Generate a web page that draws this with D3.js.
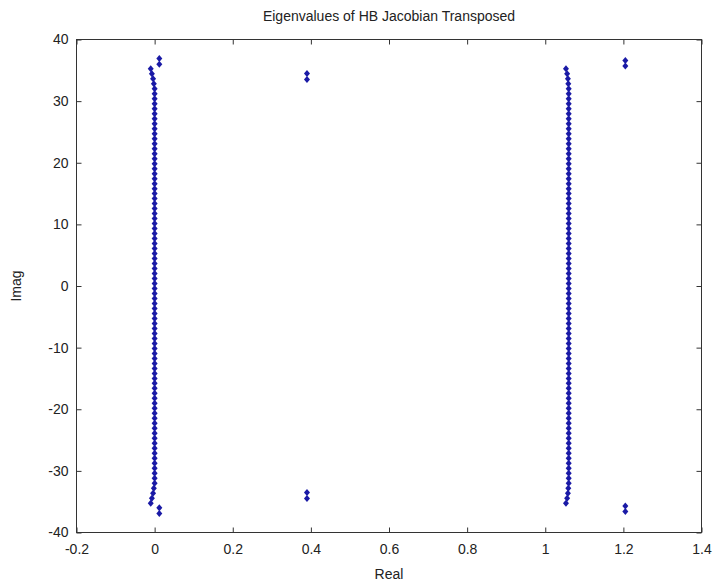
<!DOCTYPE html>
<html lang="en">
<head>
    <meta charset="UTF-8">
    <title>Eigenvalues of HB Jacobian Transposed</title>
    <script src="https://d3js.org/d3.v7.min.js"></script>
    <style>
        body { margin: 0; background: #fff; }
        svg text { font-family: "Liberation Sans", Arial, sans-serif; fill: #222; }
        .tick line { stroke: #333; }
    </style>
</head>
<body>
    <svg id="chart" width="720" height="586"></svg>

    <script>
        // imaginary parts of the two long columns (top to bottom)
        const colImag = [
            35.24, 34.43, 33.62, 32.81, 32.00, 31.19, 30.38, 29.57, 28.76, 27.95, 27.14,
            26.33, 25.52, 24.71, 23.90, 23.09, 22.28, 21.47, 20.66, 19.85, 19.04, 18.23,
            17.42, 16.61, 15.80, 14.99, 14.18, 13.37, 12.56, 11.75, 10.94, 10.13, 9.32,
            8.51, 7.70, 6.89, 6.08, 5.27, 4.46, 3.65, 2.84, 2.03, 1.22, 0.41,
            -0.41, -1.22, -2.03, -2.84, -3.65, -4.46, -5.27, -6.08, -6.89, -7.70, -8.51,
            -9.32, -10.13, -10.94, -11.75, -12.56, -13.37, -14.18, -14.99, -15.80, -16.61, -17.42,
            -18.23, -19.04, -19.85, -20.66, -21.47, -22.28, -23.09, -23.90, -24.71, -25.52, -26.33,
            -27.14, -27.95, -28.76, -29.57, -30.38, -31.19, -32.00, -32.81, -33.62, -34.43, -35.24
        ];

        // real parts, left column (near 0)
        const leftReal = [
            -0.010, -0.007, -0.004, -0.002, 0, 0, 0, 0, 0, 0, 0,
            0, 0, 0, 0, 0, 0, 0, 0, 0, 0, 0,
            0, 0, 0, 0, 0, 0, 0, 0, 0, 0, 0,
            0, 0, 0, 0, 0, 0, 0, 0, 0, 0, 0,
            0, 0, 0, 0, 0, 0, 0, 0, 0, 0, 0,
            0, 0, 0, 0, 0, 0, 0, 0, 0, 0, 0,
            0, 0, 0, 0, 0, 0, 0, 0, 0, 0, 0,
            0, 0, 0, 0, 0, 0, 0, -0.002, -0.004, -0.007, -0.010
        ];

        // real parts, right column (near 1.06)
        const rightReal = [
            1.053, 1.056, 1.058, 1.059, 1.06, 1.06, 1.06, 1.06, 1.06, 1.06, 1.06,
            1.06, 1.06, 1.06, 1.06, 1.06, 1.06, 1.06, 1.06, 1.06, 1.06, 1.06,
            1.06, 1.06, 1.06, 1.06, 1.06, 1.06, 1.06, 1.06, 1.06, 1.06, 1.06,
            1.06, 1.06, 1.06, 1.06, 1.06, 1.06, 1.06, 1.06, 1.06, 1.06, 1.06,
            1.06, 1.06, 1.06, 1.06, 1.06, 1.06, 1.06, 1.06, 1.06, 1.06, 1.06,
            1.06, 1.06, 1.06, 1.06, 1.06, 1.06, 1.06, 1.06, 1.06, 1.06, 1.06,
            1.06, 1.06, 1.06, 1.06, 1.06, 1.06, 1.06, 1.06, 1.06, 1.06, 1.06,
            1.06, 1.06, 1.06, 1.06, 1.06, 1.06, 1.06, 1.059, 1.058, 1.056, 1.053
        ];

        // isolated pairs
        const pairReal = [0.012, 0.012, 0.012, 0.012, 0.39, 0.39, 0.39, 0.39, 1.205, 1.205, 1.205, 1.205];
        const pairImag = [36.9, 36.0, -36.0, -36.9, 34.5, 33.5, -33.5, -34.5, 36.6, 35.7, -35.7, -36.6];

        const xTicks = [-0.2, 0, 0.2, 0.4, 0.6, 0.8, 1, 1.2, 1.4];
        const xTickLabels = ["-0.2", "0", "0.2", "0.4", "0.6", "0.8", "1", "1.2", "1.4"];
        const yTicks = [-40, -30, -20, -10, 0, 10, 20, 30, 40];
        const yTickLabels = ["-40", "-30", "-20", "-10", "0", "10", "20", "30", "40"];

        const svg = d3.select("#chart");

        const x = d3.scaleLinear().domain([-0.2, 1.4]).range([76.5, 701.5]);
        const y = d3.scaleLinear().domain([-40, 40]).range([532.5, 39.5]);

        // merge everything into points
        let points = [];
        colImag.forEach((im, i) => {
            points.push({ re: leftReal[i], im: im });
            points.push({ re: rightReal[i], im: im });
        });
        pairReal.forEach((re, i) => points.push({ re: re, im: pairImag[i] }));

        const tickLen = 5;
        const fontSize = 14;

        // bottom axis
        svg.append("g")
            .attr("transform", `translate(0, ${y.range()[0]})`)
            .call(d3.axisBottom(x).tickValues(xTicks)
                .tickFormat((d, i) => xTickLabels[i])
                .tickSizeInner(-tickLen).tickSizeOuter(0).tickPadding(12))
            .call(g => g.select(".domain").remove())
            .selectAll("text").attr("font-size", fontSize).attr("fill", "#222");

        // top axis (ticks only)
        svg.append("g")
            .attr("transform", `translate(0, ${y.range()[1]})`)
            .call(d3.axisTop(x).tickValues(xTicks).tickFormat("")
                .tickSizeInner(-tickLen).tickSizeOuter(0))
            .call(g => g.select(".domain").remove());

        // left axis
        svg.append("g")
            .attr("transform", `translate(${x.range()[0]}, 0)`)
            .call(d3.axisLeft(y).tickValues(yTicks)
                .tickFormat((d, i) => yTickLabels[i])
                .tickSizeInner(-tickLen).tickSizeOuter(0).tickPadding(8))
            .call(g => g.select(".domain").remove())
            .selectAll("text").attr("font-size", fontSize).attr("fill", "#222");

        // right axis (ticks only)
        svg.append("g")
            .attr("transform", `translate(${x.range()[1]}, 0)`)
            .call(d3.axisRight(y).tickValues(yTicks).tickFormat("")
                .tickSizeInner(-tickLen).tickSizeOuter(0))
            .call(g => g.select(".domain").remove());

        svg.selectAll(".tick line").attr("stroke", "#333");
        svg.selectAll(".tick text").attr("font-family", "Liberation Sans, Arial, sans-serif");

        // box
        svg.append("rect")
            .attr("x", x.range()[0])
            .attr("y", y.range()[1])
            .attr("width", x.range()[1] - x.range()[0])
            .attr("height", y.range()[0] - y.range()[1])
            .attr("fill", "none")
            .attr("stroke", "#333")
            .attr("stroke-width", 1);

        // diamond markers
        const hw = 3, hh = 3.5;
        svg.append("g")
            .selectAll("path")
            .data(points)
            .join("path")
            .attr("d", d => {
                const cx = x(d.re), cy = y(d.im);
                return `M${cx},${cy - hh}L${cx + hw},${cy}L${cx},${cy + hh}L${cx - hw},${cy}Z`;
            })
            .attr("fill", "#1a1aa6");

        // title and axis labels
        svg.append("text")
            .attr("x", (x.range()[0] + x.range()[1]) / 2)
            .attr("y", 21)
            .attr("text-anchor", "middle")
            .attr("font-size", fontSize)
            .text("Eigenvalues of HB Jacobian Transposed");

        svg.append("text")
            .attr("x", (x.range()[0] + x.range()[1]) / 2)
            .attr("y", 579)
            .attr("text-anchor", "middle")
            .attr("font-size", fontSize)
            .text("Real");

        svg.append("text")
            .attr("transform", `translate(21, ${(y.range()[0] + y.range()[1]) / 2}) rotate(-90)`)
            .attr("text-anchor", "middle")
            .attr("font-size", fontSize)
            .text("Imag");
    </script>
</body>
</html>
